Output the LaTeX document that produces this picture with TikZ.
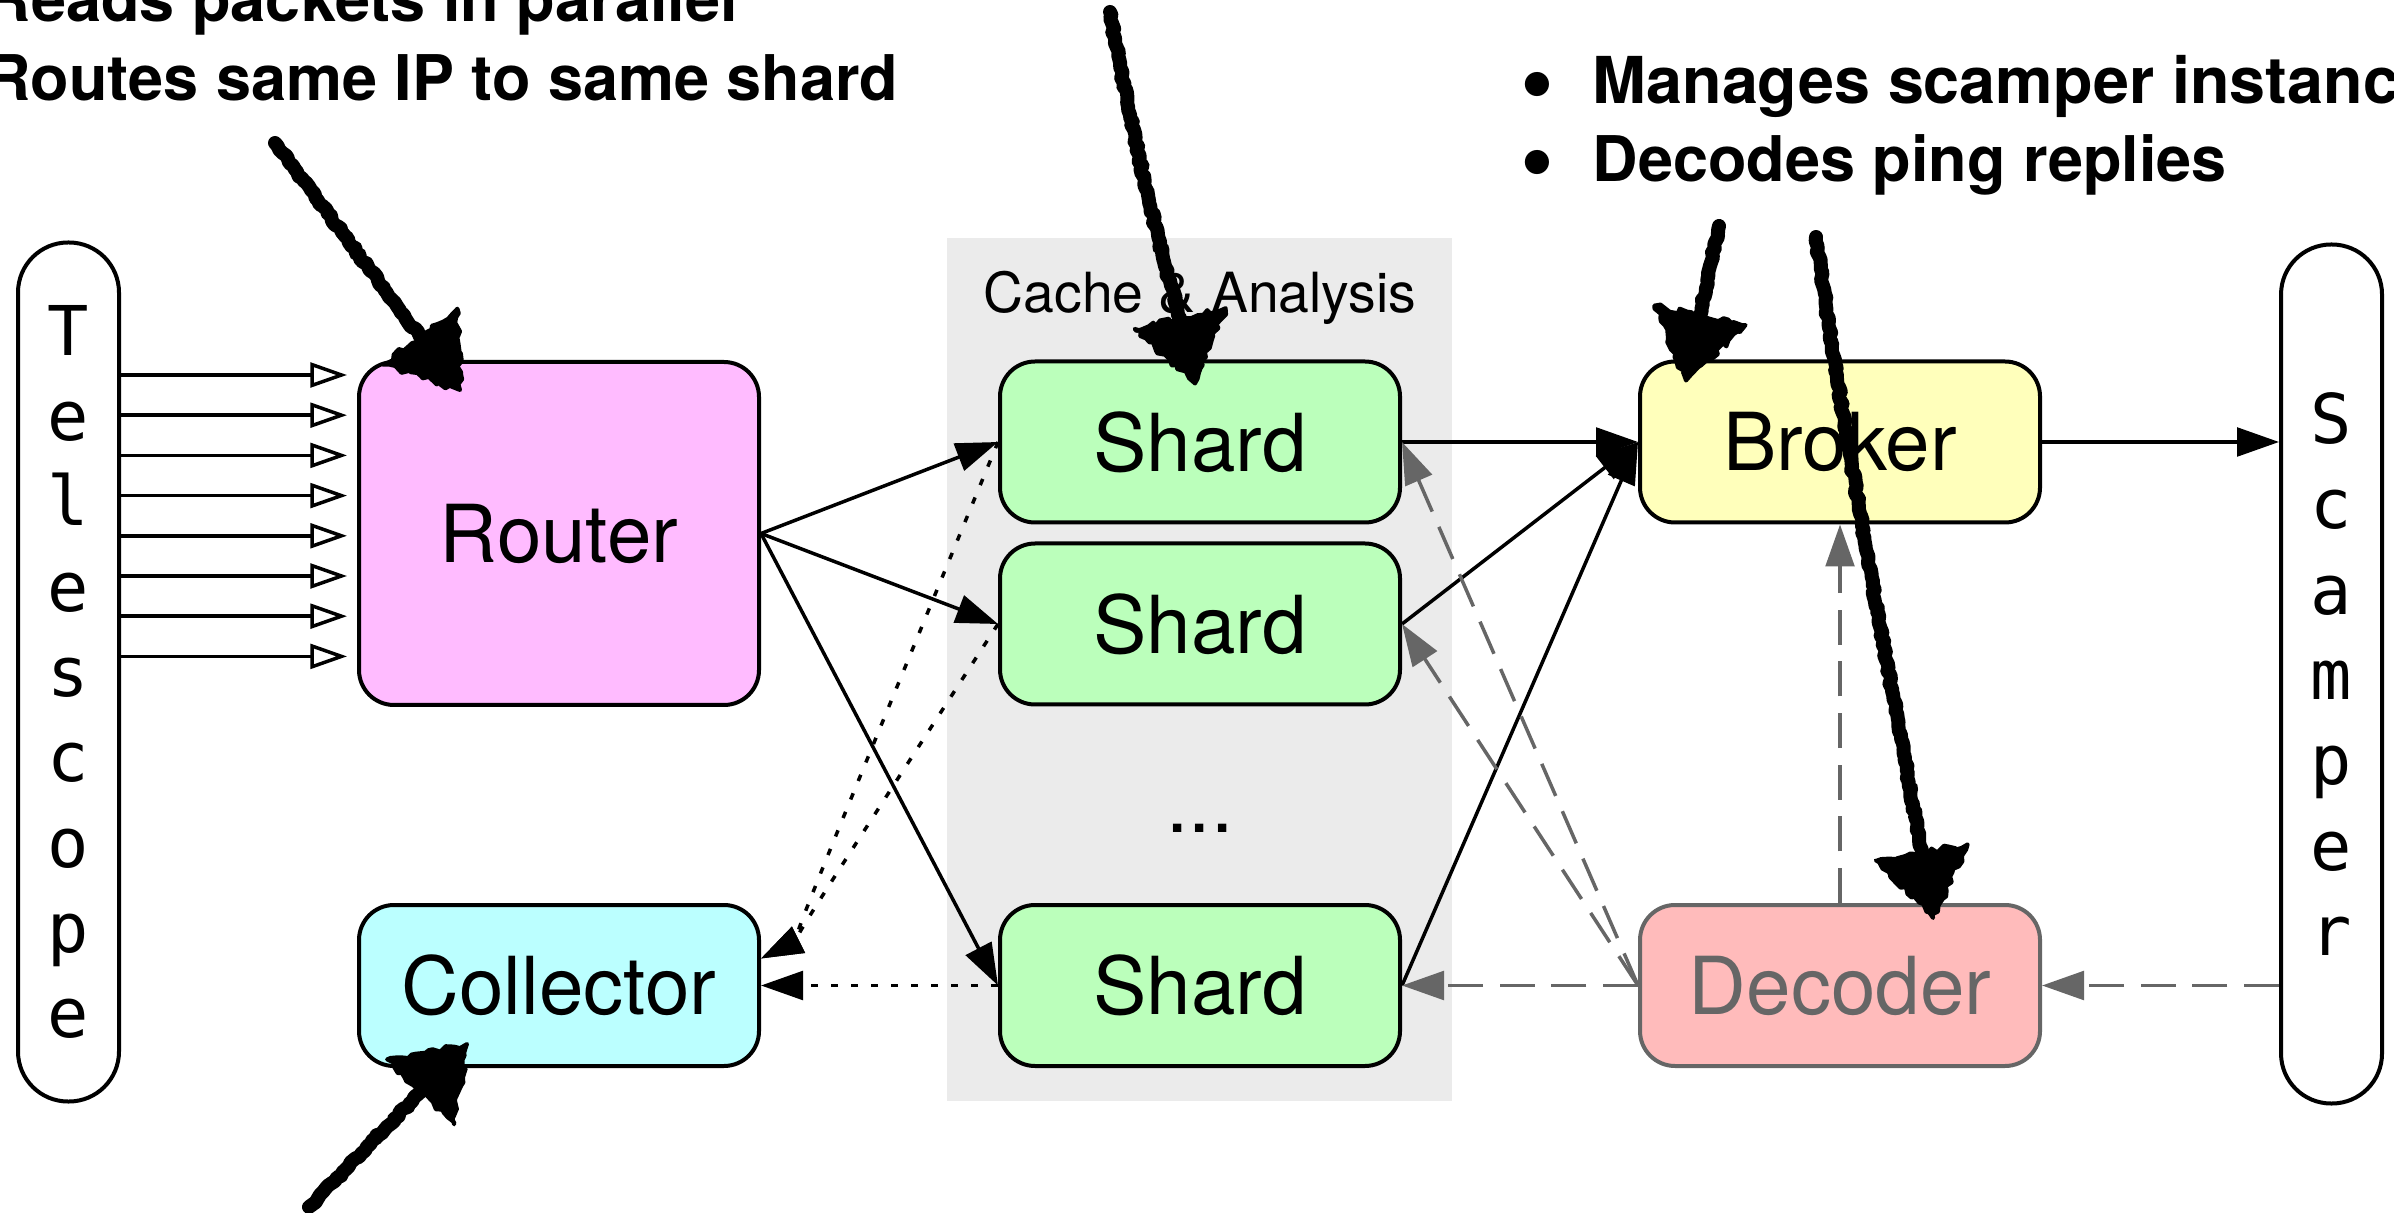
\documentclass[tikz,border=0pt]{standalone}
\usepackage{fontspec}
\setmainfont{TeX Gyre Heros}
\newfontfamily\monofam{DejaVu Sans Mono}
\usetikzlibrary{arrows.meta,calc,decorations.pathmorphing}

\definecolor{routerfill}{HTML}{FFBBFF}
\definecolor{collfill}{HTML}{BBFFFF}
\definecolor{shardfill}{HTML}{BBFFBB}
\definecolor{brokerfill}{HTML}{FFFFBB}
\definecolor{decfill}{HTML}{FFBBBB}
\definecolor{edgegray}{HTML}{666666}
\definecolor{clusterbg}{HTML}{EBEBEB}

\begin{document}
\begin{tikzpicture}[x=0.3pt, y=-0.3pt,
  box/.style={draw=black, line width=1.2pt, rounded corners=10.5pt,
    minimum width=120pt, minimum height=48.3pt, inner sep=0pt,
    font=\fontsize{24}{28}\selectfont},
  pill/.style={draw=black, line width=1.2pt, rounded corners=15pt,
    minimum width=30.3pt, minimum height=257.7pt, inner sep=0pt, align=center,
    font=\monofam\fontsize{20.6}{25.6}\selectfont},
  note/.style={inner sep=0pt, anchor=base west,
    font=\bfseries\fontsize{18.9}{22}\selectfont},
  dot/.style={inner sep=0pt, anchor=base,
    font=\bfseries\fontsize{29}{31}\selectfont},
  flow/.style={line width=1.05pt, -{Triangle[length=12.6pt,width=8.6pt]}},
  feed/.style={line width=1.05pt, -{Triangle[open,length=11pt,width=7.4pt,fill=white]}},
  collect/.style={flow, dash pattern=on 2pt off 4pt},
  reply/.style={flow, color=edgegray, dash pattern=on 10.5pt off 5pt},
  hand/.style={line width=4.2pt, line cap=round, line join=round, decorate,
    decoration={random steps, segment length=1.2pt, amplitude=0.45pt}},
  handhead/.style={fill=black, draw=black, line width=1.2pt, line join=round, decorate,
    decoration={random steps, segment length=1.5pt, amplitude=0.9pt}}
]
\useasboundingbox (0,0) rectangle (2394,1213);

% shard cluster backdrop and its title
\node[fill=clusterbg, minimum width=151.5pt, minimum height=258.9pt, inner sep=0pt]
  (cluster) at (1199.5,669.5) {};
\node[inner sep=0pt, anchor=base, font=\fontsize{16.6}{19}\selectfont]
  (clabel) at (1200,313) {Cache \& Analysis};

% pipeline stages
\node[pill] (tel) at (68.5,672) {T\\e\\l\\e\\s\\c\\o\\p\\e};
\node[pill] (scamper) at (2331.5,674) {S\\c\\a\\m\\p\\e\\r};
\node[box, fill=routerfill, minimum height=102.9pt] (router) at (559,533.5) {Router};
\node[box, fill=collfill] (collector) at (559,985.5) {Collector};
\node[box, fill=shardfill] (s1) at (1200,442) {Shard};
\node[box, fill=shardfill] (s2) at (1200,624) {Shard};
\node[box, fill=shardfill] (s3) at (1200,985.5) {Shard};
\node[inner sep=0pt, anchor=base, font=\fontsize{24}{28}\selectfont] (more) at (1200,832) {...};
\node[box, fill=brokerfill] (broker) at (1840,442) {Broker};
\node[box, fill=decfill, draw=edgegray, text=edgegray] (decoder) at (1840,985.5) {Decoder};

% packet feeds from the telescope
\foreach \k in {0,...,7} {
  \coordinate (in\k) at ($(tel.east)+(0,{375+40.2*\k-672})$);
  \draw[feed] (in\k) -- ($(router.west |- in\k)+(-10,0)$);
}

% router to shards
\draw[flow] (router.east) -- (s1.west);
\draw[flow] (router.east) -- (s2.west);
\draw[flow] (router.east) -- (s3.west);

% shards to collector
\coordinate (cin) at ($(collector.east)+(0,-27)$);
\draw[collect] (s1.west) .. controls ($(cin)+(30,-15)$) .. (cin);
\draw[collect] (s2.west) .. controls ($(cin)+(30,-15)$) .. (cin);
\draw[collect] (s3.west) -- (collector.east);

% shards to broker, broker to scamper
\draw[flow] (s1.east) -- (broker.west);
\draw[flow] (s2.east) -- (broker.west);
\draw[flow] (s3.east) -- (broker.west);
\draw[flow] (broker.east) -- (scamper.west |- broker.east);

% replies through the decoder
\draw[reply] (scamper.west |- decoder.east) -- (decoder.east);
\draw[reply] (decoder.north) -- (broker.south);
\draw[reply] (decoder.west) -- (s1.east);
\draw[reply] (decoder.west) -- (s2.east);
\draw[reply] (decoder.west) -- (s3.east);

% notes
\node[note] (n1) at (-15,22) {Reads packets in parallel};
\node[note] (n2) at (-15,101) {Routes same IP to same shard};
\node[dot] (b1) at (1537,114) {\textbullet};
\node[note, font=\bfseries\fontsize{19.4}{22}\selectfont] (n3) at (1592,104) {Manages scamper instances};
\node[dot] (b2) at (1537,192) {\textbullet};
\node[note] (n4) at (1592,182) {Decodes ping replies};

% hand-drawn pointers
\pgfmathsetseed{7}
\coordinate (h1s) at (275,143);
\coordinate (h1t) at ($(router.north west)+(103,30)$);
\coordinate (h1b) at ($(h1t)!20pt!(h1s)$);
\draw[hand] (h1s) -- (h1b);
\fill[handhead] (h1t) -- ($(h1b)!14pt!90:(h1t)$) -- ($(h1b)!14pt!-90:(h1t)$) -- cycle;

\coordinate (h2s) at (1110,12);
\coordinate (h2t) at ($(s1.north)+(-5,24)$);
\coordinate (h2b) at ($(h2t)!20pt!(h2s)$);
\draw[hand] (h2s) .. controls (1135,150) and (1160,250) .. (h2b);
\fill[handhead] (h2t) -- ($(h2b)!14pt!90:(h2t)$) -- ($(h2b)!14pt!-90:(h2t)$) -- cycle;

\coordinate (h3s) at (1719,226);
\coordinate (h3t) at ($(broker.north west)+(48,21)$);
\coordinate (h3b) at ($(h3t)!20pt!(h3s)$);
\draw[hand] (h3s) -- (h3b);
\fill[handhead] (h3t) -- ($(h3b)!14pt!90:(h3t)$) -- ($(h3b)!14pt!-90:(h3t)$) -- cycle;

\coordinate (h4s) at (1816,237);
\coordinate (h4c) at (1897,710);
\coordinate (h4t) at ($(decoder.north)+(93,15)$);
\coordinate (h4b) at ($(h4t)!20pt!(h4c)$);
\draw[hand] (h4s) .. controls (1850,480) and (h4c) .. (h4b);
\fill[handhead] (h4t) -- ($(h4b)!14pt!90:(h4t)$) -- ($(h4b)!14pt!-90:(h4t)$) -- cycle;

\coordinate (h5s) at (309,1207);
\coordinate (h5t) at ($(collector.south west)+(110,-24)$);
\coordinate (h5b) at ($(h5t)!20pt!(h5s)$);
\draw[hand] (h5s) -- (h5b);
\fill[handhead] (h5t) -- ($(h5b)!14pt!90:(h5t)$) -- ($(h5b)!14pt!-90:(h5t)$) -- cycle;
\end{tikzpicture}
\end{document}
